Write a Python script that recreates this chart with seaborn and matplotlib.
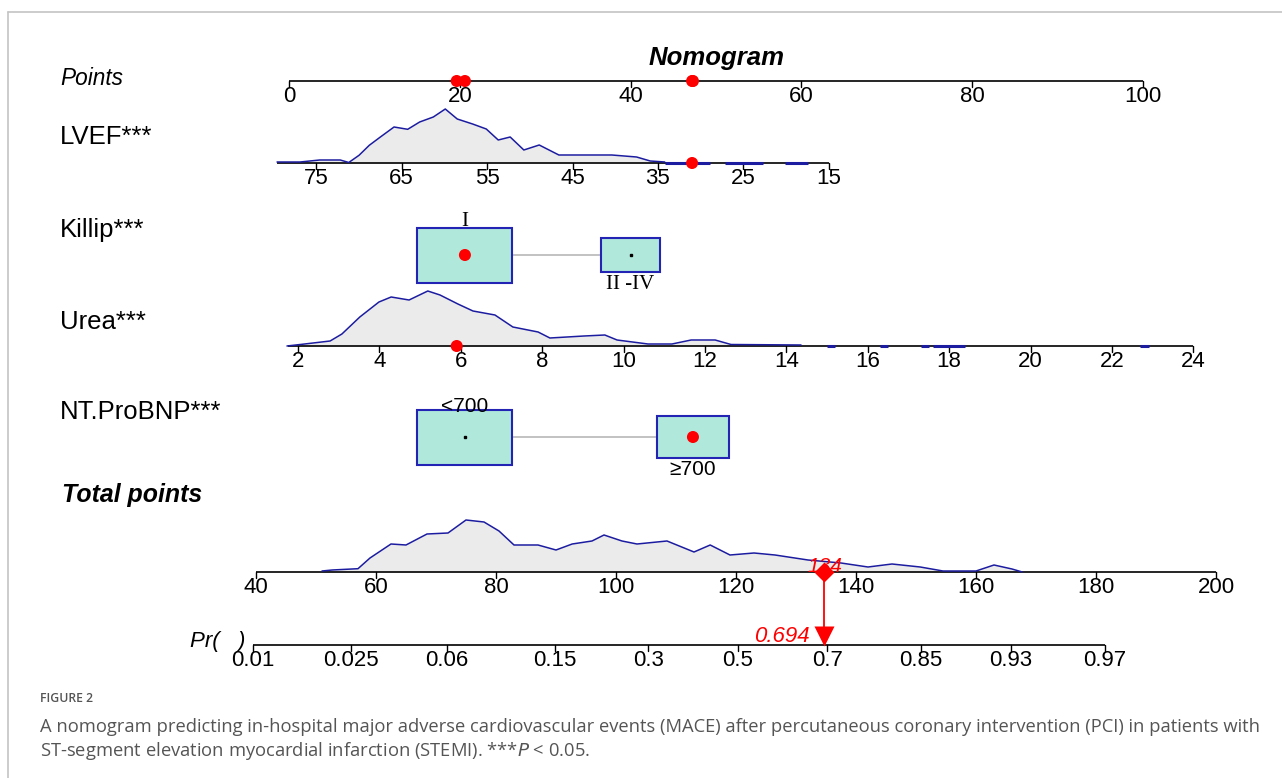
import numpy as np
import pandas as pd
import matplotlib
matplotlib.use("Agg")
import matplotlib.pyplot as plt
from matplotlib.patches import Rectangle
from matplotlib.lines import Line2D
import seaborn as sns

# scale ticks
points_ticks = [0, 20, 40, 60, 80, 100]
lvef_ticks = [75, 65, 55, 45, 35, 25, 15]
urea_ticks = [2, 4, 6, 8, 10, 12, 14, 16, 18, 20, 22, 24]
total_ticks = [40, 60, 80, 100, 120, 140, 160, 180, 200]
pr_ticks = [0.01, 0.025, 0.06, 0.15, 0.3, 0.5, 0.7, 0.85, 0.93, 0.97]
pr_labels = ["0.01", "0.025", "0.06", "0.15", "0.3", "0.5", "0.7", "0.85", "0.93", "0.97"]

# scoring
lvef_zero = 78.2          # LVEF giving 0 points, 1 point per unit
lvef_range = [79.6, 15]
urea_zero = 1.78
urea_slope = 4.766        # points per unit of urea
urea_range = [1.75, 24]
killip_levels = ["I", "II -IV"]
killip_points = [20.6, 40.0]
killip_share = [0.72, 0.28]
nt_levels = ["<700", "\u2265700"]
nt_points = [20.6, 47.3]
nt_share = [0.635, 0.365]
total_mid = 120.3         # total points at Pr = 0.5
total_per_logit = 17.6

# densities (heights as read)
lvef_grid = [79.6, 76.9, 74.6, 72.2, 71.2, 70.0, 68.8, 67.5, 65.9, 64.3, 62.9, 61.3,
             59.9, 58.5, 56.7, 55.1, 53.7, 52.3, 50.7, 48.9, 46.6, 43.7, 40.4, 37.5,
             35.9, 34.2]
lvef_dens = [1, 1, 3, 3, 0.5, 7.7, 17.7, 26, 36, 33.7, 41, 46, 54, 44, 39, 34, 23, 26,
             13, 18, 8, 8, 8, 6, 2, 1]
lvef_tail_lo = [34.2, 27.1, 20.1]
lvef_tail_hi = [28.9, 22.7, 17.4]

urea_grid = [1.73, 2.10, 2.79, 3.08, 3.52, 3.99, 4.29, 4.73, 5.19, 5.49, 5.93, 6.30,
             6.84, 7.28, 7.90, 8.19, 9.03, 9.54, 9.84, 10.60, 11.19, 11.66, 12.25,
             12.64, 14.36]
urea_dens = [0, 1.7, 5, 12, 29, 44, 49, 46, 55, 51, 42, 35, 31, 19, 14, 8, 10, 11, 6,
             2, 2, 6, 6, 1.5, 1]
urea_tail_lo = [15.0, 16.3, 17.3, 17.6, 22.7]
urea_tail_hi = [15.2, 16.5, 17.5, 18.4, 22.9]

total_grid = [51, 52.7, 57, 59, 62.5, 65, 68.5, 72, 75, 78, 80.5, 83, 87, 90, 92.7, 96,
              98, 101, 103.5, 108.5, 113, 115.7, 119, 123, 126.5, 132, 137.5, 142, 146,
              150.7, 154.5, 160, 163, 166, 167.7]
total_dens = [1, 2, 3.3, 14, 28, 27, 38, 39, 52, 50, 41, 27, 27, 22, 28, 31, 37, 31, 28,
              31, 20, 27, 17, 19, 17, 12, 9, 5, 8, 5, 1, 1, 7, 3, 0]

# patient shown
obs_lvef = 31
obs_killip = "I"
obs_urea = 5.9
obs_nt = "\u2265700"

# layout / style
W, H = 1282, 778
PX0, PXU = 289, 8.54
SANS = ["Liberation Sans", "DejaVu Sans"]
SERIF = ["Liberation Serif", "DejaVu Serif"]
FILL = "#ebebeb"
LINE = "#1c1ca0"
BOX_FILL = "#b0e8dc"
BOX_EDGE = "#2424b4"
RED = "#ff0000"

sns.set_style("white")
plt.rcParams["font.family"] = SANS
plt.rcParams["text.color"] = "black"

fig = plt.figure(figsize=(W / 100, H / 100), dpi=100)
ax = fig.add_axes([0, 0, 1, 1])


def from_px(p):
    return (p - PX0) / PXU


def lvef_x(v):
    return lvef_zero - np.asarray(v, float)


def urea_x(v):
    return (np.asarray(v, float) - urea_zero) * urea_slope


def total_x(t):
    return from_px(256 + (np.asarray(t, float) - 40) * 6.0)


def pr_x(p):
    p = np.asarray(p, float)
    return total_x(total_mid + total_per_logit * np.log(p / (1 - p)))


def scale(y, pos, labels, lo, hi, size=16):
    ax.plot([lo, hi], [y, y], color="black", lw=1.2, zorder=3, solid_capstyle="butt")
    for xp, lab in zip(pos, labels):
        ax.plot([xp, xp], [y, y + 6], color="black", lw=1.0, zorder=3)
        ax.text(xp, y + 21, lab, ha="center", va="baseline", fontsize=size, zorder=4)


def density(y, xs, hs, lo_tail=(), hi_tail=()):
    xs = np.asarray(xs)
    hs = np.asarray(hs, float)
    ax.fill_between(xs, y, y - hs, color=FILL, lw=0, zorder=1)
    ax.plot(xs, y - hs, color=LINE, lw=1.1, zorder=4)
    for a, b in zip(lo_tail, hi_tail):
        ax.plot([a, b], [y - 0.5, y - 0.5], color=LINE, lw=2.2, zorder=4,
                solid_capstyle="butt")


def boxes(yc, levels, pts, share, obs, fam, size, up_off, down_off):
    base_w, base_h = 95 / PXU, 55
    big = max(share)
    widths = []
    for i, (lev, p, s) in enumerate(zip(levels, pts, share)):
        k = np.sqrt(s / big)
        w, h = base_w * k, base_h * k
        widths.append(w)
        ax.add_patch(Rectangle((p - w / 2, yc - h / 2), w, h, facecolor=BOX_FILL,
                               edgecolor=BOX_EDGE, lw=1.5, zorder=3))
        if lev != obs:
            ax.plot(p, yc, marker="s", ms=1.5, color="black", zorder=5)
        if i == 0:
            ax.text(p, yc - h / 2 + up_off, lev, ha="center", va="baseline",
                    fontsize=size, family=fam, zorder=6)
        else:
            ax.text(p, yc + h / 2 + down_off, lev, ha="center", va="baseline",
                    fontsize=size, family=fam, zorder=6)
    ax.plot([pts[0] + widths[0] / 2, pts[1] - widths[1] / 2], [yc, yc],
            color="#bdbdbd", lw=1.3, zorder=2)


# row labels
ax.text(from_px(717), 58, "Nomogram", ha="center", va="center", fontsize=18.5,
        fontweight="bold", fontstyle="italic")
ax.text(from_px(60), 78, "Points", ha="left", va="center", fontsize=16.3, fontstyle="italic")
ax.text(from_px(60), 137, "LVEF***", ha="left", va="center", fontsize=18.5)
ax.text(from_px(60), 230, "Killip***", ha="left", va="center", fontsize=18.5)
ax.text(from_px(60), 322, "Urea***", ha="left", va="center", fontsize=18.5)
ax.text(from_px(60), 412, "NT.ProBNP***", ha="left", va="center", fontsize=18.5)
ax.text(from_px(62), 495, "Total points", ha="left", va="center", fontsize=17.9,
        fontweight="bold", fontstyle="italic")
ax.text(from_px(190), 641, "Pr(   )", ha="left", va="center", fontsize=16, fontstyle="italic")

# scales
scale(81, points_ticks, [str(t) for t in points_ticks], 0, 100)

density(163, lvef_x(lvef_grid), lvef_dens, lvef_x(lvef_tail_lo), lvef_x(lvef_tail_hi))
scale(163, lvef_x(lvef_ticks), [str(t) for t in lvef_ticks], *lvef_x(lvef_range))

boxes(255, killip_levels, killip_points, killip_share, obs_killip, SERIF, 15, -2, 17)

density(346, urea_x(urea_grid), urea_dens, urea_x(urea_tail_lo), urea_x(urea_tail_hi))
scale(346, urea_x(urea_ticks), [str(t) for t in urea_ticks], *urea_x(urea_range))

boxes(437, nt_levels, nt_points, nt_share, obs_nt, SANS, 15, 2, 17)

density(572, total_x(total_grid), total_dens)
scale(572, total_x(total_ticks), [str(t) for t in total_ticks], total_x(40), total_x(200))

scale(645, pr_x(pr_ticks), pr_labels, pr_x(0.01), pr_x(0.97))

# patient points
p_lvef = float(lvef_x(obs_lvef))
p_killip = killip_points[killip_levels.index(obs_killip)]
p_urea = float(urea_x(obs_urea))
p_nt = nt_points[nt_levels.index(obs_nt)]
total = p_lvef + p_killip + p_urea + p_nt
prob = 1 / (1 + np.exp(-(total - total_mid) / total_per_logit))

obs = pd.DataFrame({
    "x": [p_lvef, p_killip, p_urea, p_nt, p_lvef, p_killip, p_urea, p_nt],
    "y": [81, 81, 81, 81, 163, 255, 346, 437],
})
sns.scatterplot(data=obs, x="x", y="y", ax=ax, color=RED, s=75, edgecolor="none",
                zorder=7, legend=False)

tx = float(total_x(total))
ax.plot([tx, tx], [572, 630], color=RED, lw=1.3, zorder=6)
ax.plot(tx, 572, marker="D", ms=10, color=RED, mec="none", zorder=7)
ax.plot(tx, 636, marker="v", ms=14, color=RED, mec="none", zorder=7)
ax.text(tx, 572, f"{int(total)}", ha="center", va="baseline", fontsize=15,
        fontstyle="italic", color=RED, zorder=8)
ax.text(tx - from_px(304), 642, f"{prob:.3f}", ha="right", va="baseline", fontsize=16,
        fontstyle="italic", color=RED, zorder=8)

ax.set_xlim(-PX0 / PXU, (W - PX0) / PXU)
ax.set_ylim(H, 0)
ax.axis("off")

# frame and caption
fig.add_artist(Line2D([8 / W, 1], [1 - 12 / H, 1 - 12 / H], transform=fig.transFigure,
                      color="#c4c4c4", lw=1.2))
fig.add_artist(Line2D([8 / W, 8 / W], [0, 1 - 12 / H], transform=fig.transFigure,
                      color="#c4c4c4", lw=1.2))
CAP = ["Open Sans", "DejaVu Sans"]
fig.text(40 / W, 1 - 698 / H, "FIGURE 2", ha="left", va="center", fontsize=8.8,
         family=CAP, fontweight="semibold", color="#555555")
fig.text(40 / W, 1 - 727 / H,
         "A nomogram predicting in-hospital major adverse cardiovascular events (MACE) "
         "after percutaneous coronary intervention (PCI) in patients with",
         ha="left", va="center", fontsize=13.25, family=CAP, color="#555555")
fig.text(40 / W, 1 - 751 / H,
         "ST-segment elevation myocardial infarction (STEMI). ***$\\it{P}$ < 0.05.",
         ha="left", va="center", fontsize=13.25, family=CAP, color="#555555")

fig.savefig("out.png", dpi=100)
